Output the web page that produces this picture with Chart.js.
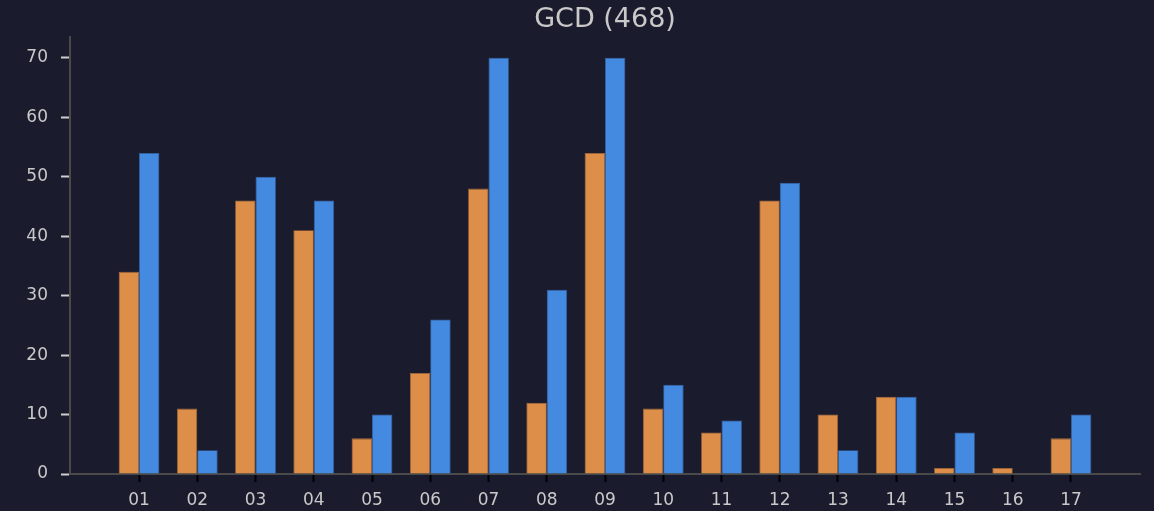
<!DOCTYPE html>
<html>
<head>
<meta charset="utf-8">
<script src="https://cdn.jsdelivr.net/npm/chart.js@4"></script>
<style>
    html, body { margin: 0; padding: 0; background: #1b1b2e; }
    canvas { display: block; }
</style>
</head>
<body>
<canvas id="gcdChart" width="1154" height="511"></canvas>
<script>
/* data */
const categories = ['01', '02', '03', '04', '05', '06', '07', '08', '09', '10', '11', '12', '13', '14', '15', '16', '17'];
const orangeVals = [34, 11, 46, 41, 6, 17, 48, 12, 54, 11, 7, 46, 10, 13, 1, 1, 6];
const blueVals = [54, 4, 50, 46, 10, 26, 70, 31, 70, 15, 9, 49, 4, 13, 7, 0, 10];
const yTicks = [0, 10, 20, 30, 40, 50, 60, 70];
const titleText = 'GCD (468)';

const textColor = '#c9c9c9';
const fontName = "'DejaVu Sans', sans-serif";

function toPoints(vals) {
    return vals.map(function(v, i) { return { x: i, y: v }; });
}

const ctx = document.getElementById('gcdChart').getContext('2d');
const chart = new Chart(ctx, {
    type: 'bar',
    data: {
        datasets: [{
            label: 'A',
            data: toPoints(orangeVals),
            backgroundColor: '#dd8f4a',
            borderColor: '#a86a36',
            borderWidth: 0.8
        }, {
            label: 'B',
            data: toPoints(blueVals),
            backgroundColor: '#448ae0',
            borderColor: '#3468a8',
            borderWidth: 0.8
        }]
    },
    options: {
        responsive: false,
        animation: false,
        devicePixelRatio: 1,
        categoryPercentage: 0.7,
        barPercentage: 1.0,
        layout: {
            padding: { left: 0, right: 14, top: 0, bottom: 0 }
        },
        plugins: {
            legend: { display: false },
            tooltip: { enabled: false },
            title: {
                display: true,
                fullSize: false,
                text: titleText,
                color: textColor,
                font: { family: fontName, size: 27, weight: 'normal', lineHeight: 1.2 },
                padding: { top: 4, bottom: 0.6 }
            }
        },
        scales: {
            x: {
                type: 'linear',
                min: -1.185,
                max: 17.185,
                offset: false,
                afterBuildTicks: function(axis) {
                    axis.ticks = categories.map(function(c, i) { return { value: i }; });
                },
                afterFit: function(axis) { axis.height = 37; },
                ticks: {
                    autoSkip: false,
                    maxRotation: 0,
                    color: textColor,
                    padding: 8,
                    font: { family: fontName, size: 17 },
                    callback: function(v) { return categories[v]; }
                },
                grid: {
                    offset: false,
                    drawOnChartArea: false,
                    drawTicks: true,
                    tickLength: 8,
                    tickColor: '#000000',
                    tickWidth: 2
                },
                border: { color: '#4a4a4a', width: 2 }
            },
            y: {
                min: 0,
                max: 73.5,
                afterBuildTicks: function(axis) {
                    axis.ticks = yTicks.map(function(v) { return { value: v }; });
                },
                afterFit: function(axis) { axis.width = 70; },
                ticks: {
                    color: textColor,
                    padding: 13,
                    font: { family: fontName, size: 17 }
                },
                grid: {
                    drawOnChartArea: false,
                    drawTicks: true,
                    tickLength: 9,
                    tickColor: '#cfcfcf',
                    tickWidth: 2
                },
                border: { color: '#4a4a4a', width: 2 }
            }
        }
    },
    plugins: [{
        id: 'bg',
        beforeDraw: function(c) {
            c.ctx.save();
            c.ctx.fillStyle = '#1b1b2e';
            c.ctx.fillRect(0, 0, c.width, c.height);
            c.ctx.restore();
        }
    }]
});
</script>
</body>
</html>
